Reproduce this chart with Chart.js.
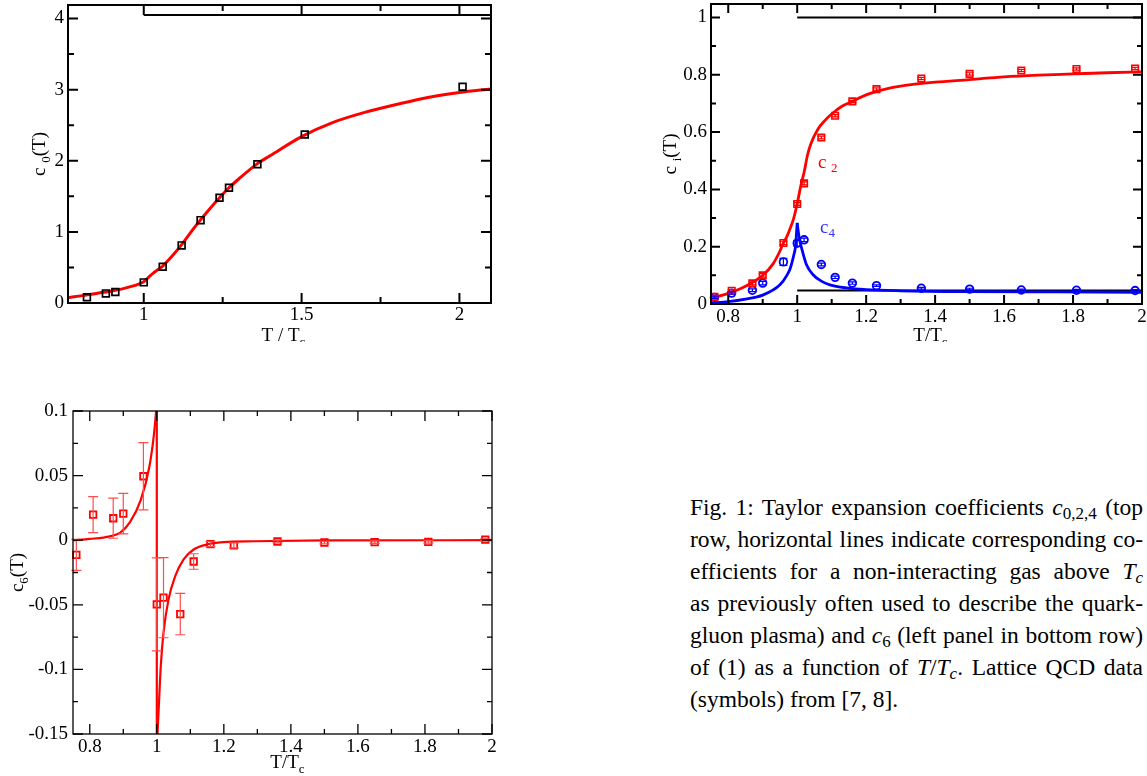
<!DOCTYPE html>
<html>
<head>
<meta charset="utf-8">
<script src="https://cdn.jsdelivr.net/npm/chart.js@4.4.1/dist/chart.umd.min.js"></script>
<style>
    body { margin: 0; background: #fff; width: 1147px; height: 776px; position: relative; overflow: hidden; }
    canvas { position: absolute; }
    #caption { position: absolute; left: 690px; top: 491px; width: 453px; font-family: "Liberation Serif", serif; font-size: 23.5px; line-height: 32px; color: #000; }
    #caption .ln { text-align: justify; text-align-last: justify; }
    #caption .ln.last { text-align-last: left; }
    #caption sub { font-size: 17px; vertical-align: -4px; line-height: 0; font-style: normal; }
    #caption sub.it { font-style: italic; }
</style>
</head>
<body>
<canvas id="c0-chart" width="500" height="342" style="left:0;top:0"></canvas>
<canvas id="ci-chart" width="507" height="342" style="left:640px;top:0"></canvas>
<canvas id="c6-chart" width="500" height="386" style="left:0;top:390px"></canvas>

<div id="caption">
    <div class="ln">Fig. 1: Taylor expansion coefficients <i>c</i><sub>0,2,4</sub> (top</div>
    <div class="ln">row, horizontal lines indicate corresponding co-</div>
    <div class="ln">efficients for a non-interacting gas above <i>T</i><sub class="it">c</sub></div>
    <div class="ln">as previously often used to describe the quark-</div>
    <div class="ln">gluon plasma) and <i>c</i><sub>6</sub> (left panel in bottom row)</div>
    <div class="ln">of (1) as a function of <i>T</i>/<i>T</i><sub class="it">c</sub>. Lattice QCD data</div>
    <div class="ln last">(symbols) from [7, 8].</div>
</div>

<script>
// ---- c0 panel (top left) ----
const c0T   = [0.82, 0.88, 0.91, 1.00, 1.06, 1.12, 1.18, 1.24, 1.27, 1.36, 1.51, 2.01];
const c0Val = [0.08, 0.135, 0.155, 0.29, 0.51, 0.81, 1.165, 1.48, 1.62, 1.95, 2.37, 3.04];
const c0FitT = [0.76, 0.8, 0.85, 0.9, 0.95, 1.0, 1.015, 1.03, 1.06, 1.09, 1.12, 1.15, 1.18, 1.21, 1.24, 1.27, 1.3, 1.36, 1.4, 1.5, 1.6, 1.7, 1.8, 1.9, 2.0, 2.1];
const c0Fit  = [0.075, 0.1, 0.135, 0.17, 0.22, 0.30, 0.36, 0.42, 0.52, 0.66, 0.82, 1.0, 1.17, 1.33, 1.48, 1.62, 1.74, 1.96, 2.07, 2.34, 2.54, 2.68, 2.79, 2.89, 2.96, 3.01];
const c0FreeT = [1.0, 2.1];
const c0Free  = [4.05, 4.05];

// ---- lattice temperatures shared by c2, c4, c6 ----
const latticeT = [0.76, 0.81, 0.87, 0.90, 0.96, 1.00, 1.02, 1.07, 1.11, 1.16, 1.23, 1.36, 1.50, 1.65, 1.81, 1.98];

// ---- c2 / c4 panel (top right) ----
const c2Val = [0.025, 0.046, 0.072, 0.10, 0.213, 0.349, 0.421, 0.581, 0.657, 0.707, 0.75, 0.787, 0.803, 0.815, 0.82, 0.822];
const c2Err = [0.004, 0.004, 0.005, 0.006, 0.006, 0.005, 0.005, 0.005, 0.004, 0.004, 0.004, 0.004, 0.004, 0.004, 0.004, 0.004];
const c4Val = [0.023, 0.038, 0.048, 0.073, 0.147, 0.212, 0.224, 0.138, 0.093, 0.073, 0.064, 0.055, 0.052, 0.049, 0.048, 0.047];
const c4Err = [0.004, 0.004, 0.005, 0.006, 0.012, 0.010, 0.006, 0.005, 0.004, 0.004, 0.003, 0.003, 0.003, 0.003, 0.003, 0.003];
const c2FitT = [0.75, 0.8, 0.85, 0.9, 0.93, 0.95, 0.96, 0.97, 0.98, 0.99, 1.0, 1.01, 1.02, 1.03, 1.04, 1.06, 1.08, 1.1, 1.13, 1.16, 1.2, 1.25, 1.3, 1.4, 1.5, 1.6, 1.7, 1.8, 1.9, 2.0];
const c2Fit  = [0.02, 0.037, 0.062, 0.10, 0.14, 0.185, 0.213, 0.235, 0.265, 0.30, 0.35, 0.41, 0.46, 0.52, 0.56, 0.61, 0.64, 0.663, 0.69, 0.707, 0.73, 0.748, 0.76, 0.774, 0.783, 0.793, 0.799, 0.803, 0.807, 0.81];
const c4FitLowT = [0.75, 0.8, 0.85, 0.9, 0.95, 0.97, 0.98, 0.99, 0.995, 1.0];
const c4FitLow  = [0.003, 0.008, 0.017, 0.031, 0.067, 0.10, 0.125, 0.17, 0.20, 0.283];
const c4FitHighT = [1.0, 1.004, 1.008, 1.015, 1.027, 1.046, 1.07, 1.095, 1.143, 1.2, 1.3, 1.5, 1.75, 2.0];
const c4FitHigh  = [0.283, 0.245, 0.218, 0.185, 0.137, 0.102, 0.08, 0.067, 0.056, 0.05, 0.046, 0.043, 0.042, 0.041];
const c2FreeT = [1.0, 2.0];
const c2Free  = [1.0, 1.0];
const c4FreeT = [1.0, 2.0];
const c4Free  = [0.047, 0.047];

// ---- c6 panel (bottom left) ----
const c6Val = [-0.0113, 0.0198, 0.017, 0.0206, 0.0495, -0.0497, -0.0445, -0.0572, -0.0165, -0.003, -0.004, -0.001, -0.0018, -0.0015, -0.0013, 0.0005];
const c6Err = [0.012, 0.014, 0.0155, 0.0157, 0.026, 0.036, 0.031, 0.016, 0.006, 0.002, 0.002, 0.001, 0.001, 0.001, 0.001, 0.001];
const c6FitLowT = [0.75, 0.8, 0.86, 0.89, 0.92, 0.952, 0.978, 0.992, 0.998];
const c6FitLow  = [0.0, 0.001, 0.003, 0.0057, 0.014, 0.031, 0.057, 0.083, 0.1];
const c6PoleT = [1.0, 1.0];
const c6Pole  = [0.1, -0.15];
const c6FitHighT = [1.002, 1.007, 1.012, 1.02, 1.035, 1.055, 1.08, 1.11, 1.15, 1.2, 1.29, 1.5, 2.0];
const c6FitHigh  = [-0.15, -0.123, -0.097, -0.0716, -0.0458, -0.0278, -0.0149, -0.0072, -0.0033, -0.0015, -0.0008, -0.0002, 0.0];

// ---- axis ticks ----
const c0XMajor = [1, 1.5, 2];
const c0XMinor = [1.25, 1.75];
const c0YMajor = [0, 1, 2, 3, 4];
const c0YMinor = [0.5, 1.5, 2.5, 3.5];
const tXMajor = [0.8, 1, 1.2, 1.4, 1.6, 1.8, 2];
const tXMinor = [0.9, 1.1, 1.3, 1.5, 1.7, 1.9];
const ciYMajor = [0, 0.2, 0.4, 0.6, 0.8, 1];
const ciYMinor = [0.1, 0.3, 0.5, 0.7, 0.9];
const c6YMajor = [-0.15, -0.1, -0.05, 0, 0.05, 0.1];
const c6YMinor = [-0.125, -0.075, -0.025, 0.025, 0.075];

const RED = '#ff0000';
const BLUE = '#0000ff';
const FONT = 'Liberation Serif';

const pts = (xs, ys) => xs.map((x, i) => ({ x, y: ys[i] }));

// frame with inward ticks on all four sides
const frameTicks = {
    id: 'frameTicks',
    afterDraw(chart, args, o) {
        const { ctx, chartArea: a, scales: { x, y } } = chart;
        ctx.save();
        ctx.strokeStyle = '#000';
        ctx.lineWidth = o.width;
        ctx.beginPath();
        const xt = (vals, len) => vals.forEach(v => {
            const p = x.getPixelForValue(v);
            ctx.moveTo(p, a.bottom); ctx.lineTo(p, a.bottom - len);
            ctx.moveTo(p, a.top); ctx.lineTo(p, a.top + len);
        });
        const yt = (vals, len) => vals.forEach(v => {
            const p = y.getPixelForValue(v);
            ctx.moveTo(a.left, p); ctx.lineTo(a.left + len, p);
            ctx.moveTo(a.right, p); ctx.lineTo(a.right - len, p);
        });
        xt(o.xMajor, o.major); xt(o.xMinor, o.minor);
        yt(o.yMajor, o.major); yt(o.yMinor, o.minor);
        ctx.stroke();
        ctx.strokeRect(a.left, a.top, a.right - a.left, a.bottom - a.top);
        ctx.restore();
    }
};

// vertical error bars read from dataset.errors
const errorBars = {
    id: 'errorBars',
    afterDatasetsDraw(chart) {
        const { ctx, scales: { x, y } } = chart;
        ctx.save();
        chart.data.datasets.forEach(ds => {
            if (!ds.errors) return;
            ctx.strokeStyle = ds.errorColor || ds.borderColor;
            ctx.lineWidth = ds.errorWidth || 1;
            const w = ds.capHalf || 5;
            ds.data.forEach((p, i) => {
                const e = ds.errors[i];
                const px = x.getPixelForValue(p.x);
                const hi = y.getPixelForValue(p.y + e);
                const lo = y.getPixelForValue(p.y - e);
                ctx.beginPath();
                ctx.moveTo(px, hi); ctx.lineTo(px, lo);
                ctx.moveTo(px - w, hi); ctx.lineTo(px + w, hi);
                ctx.moveTo(px - w, lo); ctx.lineTo(px + w, lo);
                ctx.stroke();
            });
        });
        ctx.restore();
    }
};

// text made of runs, with subscripts
function drawRuns(ctx, runs, size, align) {
    const subSize = Math.round(size * 0.7);
    const fonts = runs.map(r => `${r.it ? 'italic ' : ''}${r.sub ? subSize : size}px "${FONT}"`);
    let total = 0;
    const widths = runs.map((r, i) => {
        ctx.font = fonts[i];
        const w = ctx.measureText(r.t).width;
        total += w;
        return w;
    });
    let cx = align === 'left' ? 0 : -total / 2;
    ctx.textAlign = 'left';
    ctx.textBaseline = 'alphabetic';
    runs.forEach((r, i) => {
        ctx.font = fonts[i];
        ctx.fillText(r.t, cx, r.sub ? size * 0.24 : 0);
        cx += widths[i];
    });
}

const axisText = {
    id: 'axisText',
    afterDraw(chart, args, o) {
        const { ctx, chartArea: a, scales: { x, y } } = chart;
        ctx.save();
        ctx.fillStyle = '#000';
        if (o.xTitle) {
            ctx.save();
            ctx.translate((a.left + a.right) / 2 + (o.xTitle.dx || 0), o.xTitle.base);
            drawRuns(ctx, o.xTitle.runs, o.size);
            ctx.restore();
        }
        if (o.yTitle) {
            ctx.save();
            ctx.translate(o.yTitle.base, (a.top + a.bottom) / 2 + (o.yTitle.dy || 0));
            ctx.rotate(-Math.PI / 2);
            drawRuns(ctx, o.yTitle.runs, o.size);
            ctx.restore();
        }
        (o.notes || []).forEach(n => {
            ctx.save();
            ctx.fillStyle = n.color;
            ctx.translate(x.getPixelForValue(n.x), y.getPixelForValue(n.y));
            drawRuns(ctx, n.runs, o.size, 'left');
            ctx.restore();
        });
        ctx.restore();
    }
};

Chart.register(frameTicks, errorBars, axisText);

function axis(range, labels, pad, fit) {
    return {
        type: 'linear',
        min: range[0],
        max: range[1],
        grid: { display: false, drawTicks: false },
        border: { display: false },
        afterBuildTicks: s => { s.ticks = labels.map(v => ({ value: v })); },
        afterFit: fit,
        ticks: {
            padding: pad,
            color: '#000',
            font: { family: '"Liberation Serif", serif', size: 19 },
            maxRotation: 0,
            autoSkip: false,
            callback: v => String(+v.toFixed(3))
        }
    };
}

function makePanel(id, cfg) {
    return new Chart(document.getElementById(id), {
        type: 'scatter',
        data: { datasets: cfg.datasets },
        options: {
            responsive: false,
            animation: false,
            events: [],
            layout: { padding: cfg.padding, autoPadding: false },
            plugins: {
                legend: { display: false },
                tooltip: { enabled: false },
                frameTicks: cfg.ticks,
                axisText: cfg.text
            },
            scales: {
                x: axis(cfg.xRange, cfg.ticks.xMajor, cfg.xPad, s => { s.height = cfg.xh; s.paddingLeft = 0; s.paddingRight = 0; }),
                y: axis(cfg.yRange, cfg.ticks.yMajor, cfg.yPad, s => { s.width = cfg.yw; s.paddingTop = 0; s.paddingBottom = 0; })
            }
        }
    });
}

const curve = (data, color, width, smooth = true) => ({
    data, showLine: true, pointRadius: 0, borderColor: color, borderWidth: width,
    fill: false, cubicInterpolationMode: smooth ? 'monotone' : 'default', tension: 0
});
const markers = (data, color, style, radius, width, extra = {}) => Object.assign({
    data, showLine: false, pointStyle: style, pointRadius: radius, pointBorderWidth: width,
    borderColor: color, pointBorderColor: color, pointBackgroundColor: 'rgba(0,0,0,0)', clip: false
}, extra);

// c0(T)
makePanel('c0-chart', {
    padding: { top: 5, right: 9, left: 0, bottom: 0 },
    yw: 68, xh: 39, xPad: 1, yPad: 4,
    xRange: [0.76, 2.1], yRange: [0, 4.19],
    ticks: { xMajor: c0XMajor, xMinor: c0XMinor, yMajor: c0YMajor, yMinor: c0YMinor, major: 10, minor: 6, width: 2 },
    text: {
        size: 19,
        xTitle: { base: 341, dx: 4, runs: [{ t: 'T / T' }, { t: 'c', sub: true }] },
        yTitle: { base: 45, runs: [{ t: 'c ' }, { t: '0', sub: true }, { t: '(T)' }] }
    },
    datasets: [
        markers(pts(c0T, c0Val), '#000', 'rect', 4.8, 1.7),
        curve(pts(c0FitT, c0Fit), RED, 3),
        curve(pts(c0FreeT, c0Free), '#000', 2, false)
    ]
});

// c2(T), c4(T)
makePanel('ci-chart', {
    padding: { top: 4, right: 5, left: 0, bottom: 0 },
    yw: 71, xh: 38, xPad: 2, yPad: 4,
    xRange: [0.75, 2.0], yRange: [0, 1.047],
    ticks: { xMajor: tXMajor, xMinor: tXMinor, yMajor: ciYMajor, yMinor: ciYMinor, major: 9, minor: 5, width: 2 },
    text: {
        size: 19,
        xTitle: { base: 341, dx: 4, runs: [{ t: 'T/T' }, { t: 'c', sub: true }] },
        yTitle: { base: 36, runs: [{ t: 'c ' }, { t: 'i', sub: true }, { t: '(T)' }] },
        notes: [
            { x: 1.06, y: 0.475, color: RED, runs: [{ t: 'c ' }, { t: '2', sub: true }] },
            { x: 1.066, y: 0.249, color: '#3333ff', runs: [{ t: 'c' }, { t: '4', sub: true }] }
        ]
    },
    datasets: [
        markers(pts(latticeT, c2Val), RED, 'rect', 4.6, 1.6, { errors: c2Err, errorWidth: 1.2, capHalf: 4 }),
        markers(pts(latticeT, c4Val), BLUE, 'circle', 3.8, 1.8, { errors: c4Err, errorWidth: 1.2, capHalf: 4 }),
        curve(pts(c2FitT, c2Fit), RED, 2.8),
        curve(pts(c4FitLowT, c4FitLow), BLUE, 2.8),
        curve(pts(c4FitHighT, c4FitHigh), BLUE, 2.8),
        curve(pts(c2FreeT, c2Free), '#000', 2, false),
        curve(pts(c4FreeT, c4Free), '#000', 2, false)
    ]
});

// c6(T)
makePanel('c6-chart', {
    padding: { top: 21, right: 8, left: 0, bottom: 0 },
    yw: 73, xh: 42, xPad: 2, yPad: 5,
    xRange: [0.75, 2.0], yRange: [-0.15, 0.1],
    ticks: { xMajor: tXMajor, xMinor: tXMinor, yMajor: c6YMajor, yMinor: c6YMinor, major: 10, minor: 5, width: 1.3 },
    text: {
        size: 19,
        xTitle: { base: 378, dx: 5, runs: [{ t: 'T/T' }, { t: 'c', sub: true }] },
        yTitle: { base: 23, runs: [{ t: 'c' }, { t: '6', sub: true }, { t: '(T)' }] }
    },
    datasets: [
        markers(pts(latticeT, c6Val), RED, 'rect', 4.6, 1.8, { errors: c6Err, errorColor: '#ff4d4d', errorWidth: 1.2, capHalf: 5 }),
        curve(pts(c6FitLowT, c6FitLow), RED, 2.2),
        curve(pts(c6PoleT, c6Pole), RED, 2.2, false),
        curve(pts(c6FitHighT, c6FitHigh), RED, 2.2)
    ]
});
</script>
</body>
</html>
